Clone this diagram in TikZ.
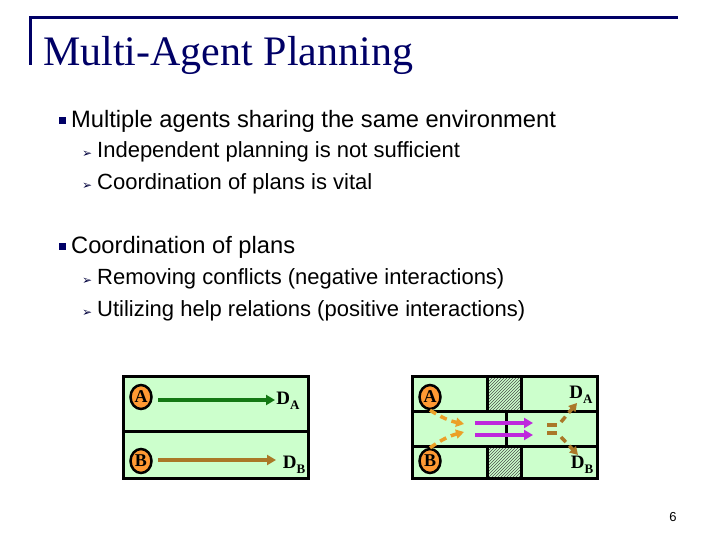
\documentclass[tikz,border=0pt]{standalone}
\usepackage{fontspec}
\setmainfont{Liberation Sans}
\newfontfamily\serifff{Liberation Serif}
\newfontfamily\djv{DejaVu Sans}
\usetikzlibrary{patterns,arrows.meta,shapes.geometric}
\definecolor{navy}{RGB}{0,0,102}
\definecolor{pg}{RGB}{204,255,204}
\definecolor{org}{RGB}{255,153,51}
\definecolor{dorg}{RGB}{235,160,40}
\definecolor{brn}{RGB}{170,120,40}
\definecolor{grn}{RGB}{20,120,20}
\definecolor{pur}{RGB}{190,40,220}
\begin{document}
\begin{tikzpicture}[x=1pt,y=-1pt,
 agent/.style={ellipse,draw=black,line width=2.5pt,fill=org,inner sep=0pt,minimum width=21pt,minimum height=24pt,font=\serifff\fontsize{18}{18}\selectfont\bfseries},
 dest/.style={font=\serifff\fontsize{19}{19}\selectfont\bfseries,inner sep=0pt},
 box/.style={draw=black,line width=3pt,fill=pg},
 main/.style={anchor=base west,inner sep=0pt,font=\fontsize{23.7}{24}\selectfont},
 sub/.style={anchor=base west,inner sep=0pt,font=\fontsize{22}{22}\selectfont},
 bul/.style={fill=navy,minimum size=7pt,inner sep=0pt},
 sbul/.style={anchor=base west,inner sep=0pt,text=navy!60!black,font=\djv\fontsize{12}{12}\selectfont},
 arr/.style={line width=3.5pt,-{Triangle[length=9pt,width=10pt]}},
 darr/.style={line width=3.5pt,dash pattern=on 7pt off 5pt,-{Triangle[length=8pt,width=9pt]}}]
\useasboundingbox (0,0) rectangle (720,540);
\fill[white] (0,0) rectangle (720,540);
\draw[navy,line width=3pt] (30,65) -- (30,18) -- (678,18);
\node[anchor=base west,inner sep=0pt,text=navy,font=\serifff\fontsize{42}{42}\selectfont] (title) at (43,66) {Multi-Agent Planning};
\node[bul] (b1) at (62,121) {};
\node[main] (t1) at (71,128) {Multiple agents sharing the same environment};
\node[sbul] (s1) at (82,158) {➢};
\node[sub] (t11) at (97,158) {Independent planning is not sufficient};
\node[sbul] (s2) at (82,190) {➢};
\node[sub] (t12) at (97,190) {Coordination of plans is vital};
\node[bul] (b2) at (62,246) {};
\node[main] (t2) at (71,253) {Coordination of plans};
\node[sbul] (s3) at (82,284) {➢};
\node[sub] (t21) at (97,284) {Removing conflicts (negative interactions)};
\node[sbul] (s4) at (82,316) {➢};
\node[sub] (t22) at (97,316) {Utilizing help relations (positive interactions)};
% left box
\draw[box] (123,376) rectangle (308,478);
\draw[line width=3pt] (123,431) -- (308,431);
\node[agent] (A1) at (141,397) {A};
\node[agent] (B1) at (141,461) {B};
\node[dest] (DA1) at (288,401) {D\raisebox{-5pt}{\fontsize{13}{13}\selectfont A}};
\node[dest] (DB1) at (294,465) {D\raisebox{-5pt}{\fontsize{13}{13}\selectfont B}};
\draw[arr,grn] (158,400) coordinate (ga) -- (275,400) coordinate (gb);
\draw[arr,brn] (158,460) coordinate (ba) -- (276,460) coordinate (bb);
% right box
\draw[box] (412,376) rectangle (597,478);
\fill[pattern=north east lines,pattern color=black!70] (487,376) rectangle (521,411);
\fill[pattern=north east lines,pattern color=black!70] (487,446) rectangle (521,478);
\draw[line width=3pt] (487,376) rectangle (521,411);
\draw[line width=3pt] (487,446) rectangle (521,478);
\draw[line width=3pt] (412,411) -- (597,411);
\draw[line width=3pt] (412,446) -- (597,446);
\draw[line width=3pt] (506,411) -- (506,446);
\draw[line width=3pt] (412,376) rectangle (597,478);
\node[agent] (A2) at (430,397) {A};
\node[agent] (B2) at (430,461) {B};
\node[dest] (DA2) at (581,395) {D\raisebox{-5pt}{\fontsize{13}{13}\selectfont A}};
\node[dest] (DB2) at (582,465) {D\raisebox{-5pt}{\fontsize{13}{13}\selectfont B}};
\coordinate (o1) at (464,424);
\coordinate (o2) at (464,432);
\draw[darr,dorg] (A2.south) to[bend right=10] (o1);
\draw[darr,dorg] (B2.north) to[bend left=10] (o2);
\draw[arr,pur] (475,423) coordinate (p1) -- (533,423) coordinate (p2);
\draw[arr,pur] (475,435) coordinate (p3) -- (533,435) coordinate (p4);
\draw[line width=3.5pt,brn] (547,425) -- (557,425);
\draw[line width=3.5pt,brn] (547,433) -- (557,433);
\draw[darr,brn] (561,422) -- (577,403) coordinate (e1);
\draw[darr,brn] (561,437) -- (578,455) coordinate (e2);
\node[anchor=base,inner sep=0pt,font=\fontsize{13}{13}\selectfont] (pn) at (673,521) {6};
\end{tikzpicture}
\end{document}
